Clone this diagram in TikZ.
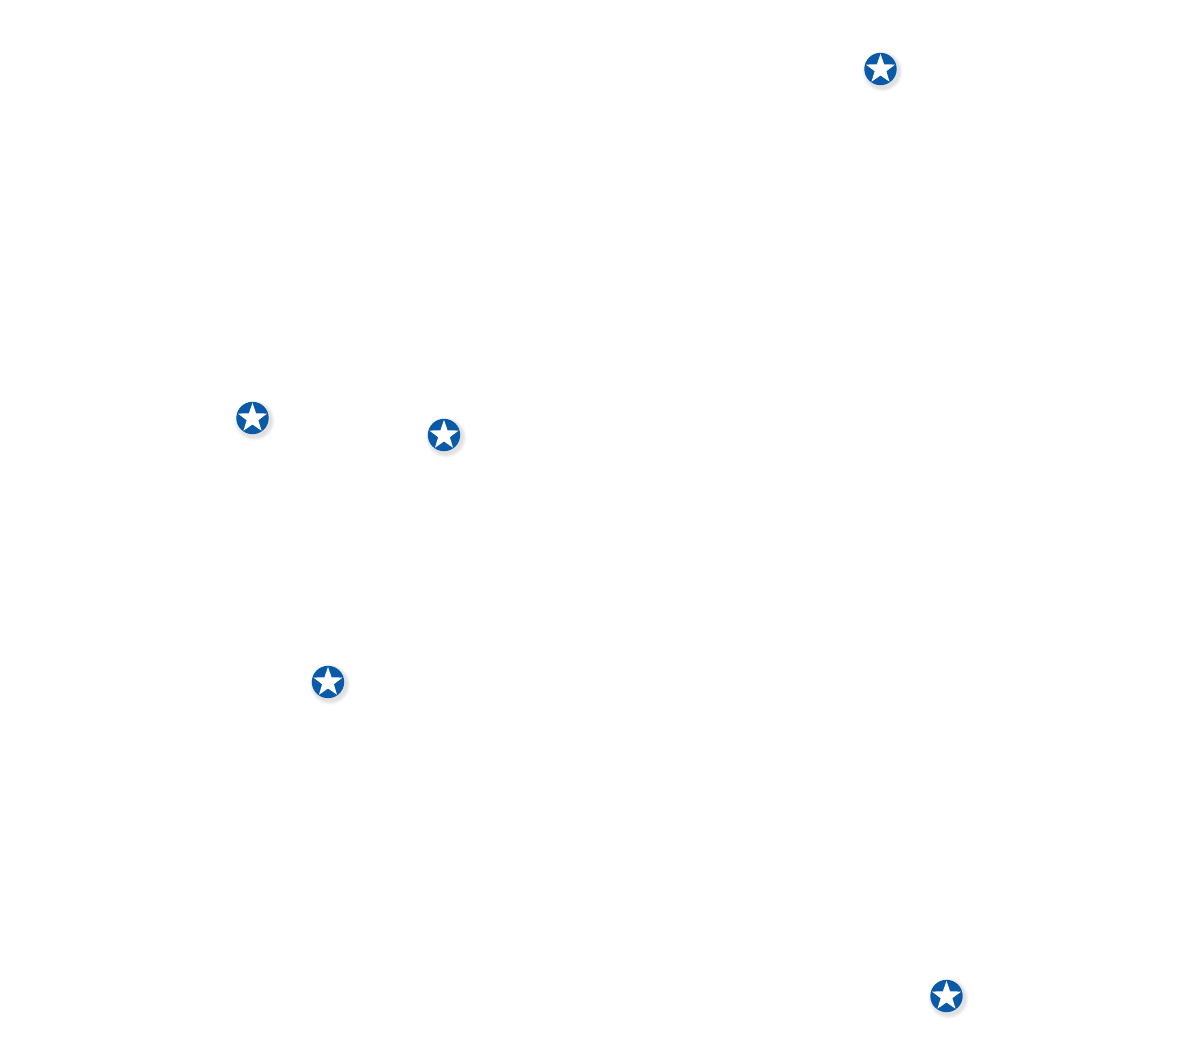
\documentclass[tikz,border=0pt]{standalone}
\usetikzlibrary{shapes.geometric}
\definecolor{markerblue}{HTML}{0B5AA8}
\tikzset{
  x=0.75pt,y=-0.75pt,
  disc/.style={circle,fill=markerblue,draw=none,minimum size=24.3pt,inner sep=0pt,outer sep=0pt},
  starmark/.style={star,star points=5,star point ratio=2.5,fill=white,draw=none,minimum size=23pt,inner sep=0pt,outer sep=0pt},
  halo/.style={circle,fill=black,fill opacity=0.018,draw=none,inner sep=0pt,outer sep=0pt},
  pics/marker/.style={code={
    \foreach \d in {30.5,29.5,28.5,27.5,26.5,25.5}{
      \node[halo,minimum size=\d pt] at (2,2.5) {};
    }
    \node[disc] (#1-disc) at (0,0) {};
    \node[starmark] (#1-star) at (0,0.3) {};
  }}
}
\begin{document}
\begin{tikzpicture}
\useasboundingbox (0,0) rectangle (1200,1054);
\fill[white] (0,0) rectangle (1200,1054);
\pic at (880.5,69) {marker=m1};
\pic at (252.5,418) {marker=m2};
\pic at (444,435) {marker=m3};
\pic at (328,682) {marker=m4};
\pic at (946.5,996) {marker=m5};
\end{tikzpicture}
\end{document}
